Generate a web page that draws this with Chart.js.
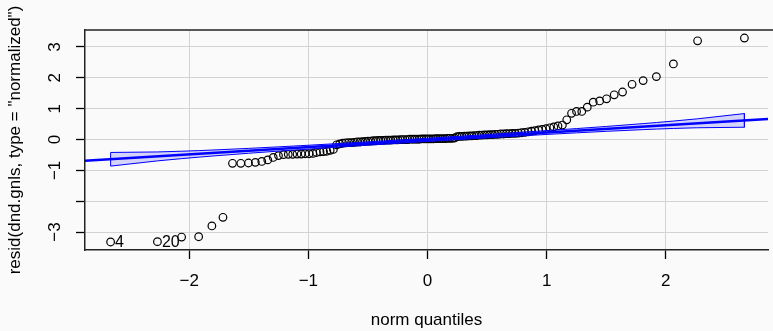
<!DOCTYPE html>
<html>
<head>
<meta charset="utf-8">
<script src="https://cdn.jsdelivr.net/npm/chart.js@4.4.1/dist/chart.umd.min.js"></script>
<style>
  html, body { margin: 0; padding: 0; background: #fafafa; }
  canvas { display: block; }
</style>
</head>
<body>
<canvas id="qq" width="773" height="331"></canvas>
<script>
// theoretical normal quantiles (x) and sorted normalized residuals (y)
const quantiles = [
  -2.660, -2.267, -2.064, -1.921, -1.810, -1.717, -1.637, -1.567, -1.503, -1.445,
  -1.391, -1.341, -1.295, -1.251, -1.209, -1.169, -1.132, -1.095, -1.060, -1.027,
  -0.994, -0.962, -0.932, -0.902, -0.873, -0.845, -0.817, -0.790, -0.763, -0.737,
  -0.712, -0.687, -0.662, -0.638, -0.614, -0.590, -0.567, -0.545, -0.522, -0.500,
  -0.478, -0.456, -0.434, -0.413, -0.392, -0.371, -0.350, -0.329, -0.309, -0.288,
  -0.268, -0.248, -0.228, -0.208, -0.188, -0.168, -0.148, -0.128, -0.108, -0.088,
  -0.069, -0.049, -0.029, -0.010,
  0.010, 0.029, 0.049, 0.069, 0.088, 0.108, 0.128, 0.148, 0.168, 0.188,
  0.208, 0.228, 0.248, 0.268, 0.288, 0.309, 0.329, 0.350, 0.371, 0.392,
  0.413, 0.434, 0.456, 0.478, 0.500, 0.522, 0.545, 0.567, 0.590, 0.614,
  0.638, 0.662, 0.687, 0.712, 0.737, 0.763, 0.790, 0.817, 0.845, 0.873,
  0.902, 0.932, 0.962, 0.994, 1.027, 1.060, 1.095, 1.132, 1.169, 1.209,
  1.251, 1.295, 1.341, 1.391, 1.445, 1.503, 1.567, 1.637, 1.717, 1.810,
  1.921, 2.064, 2.267, 2.660
];
const residuals = [
  -3.32, -3.31, -3.16, -3.15, -2.80, -2.52, -0.77, -0.77, -0.76, -0.74,
  -0.71, -0.66, -0.58, -0.52, -0.49, -0.48, -0.48, -0.47, -0.47, -0.46,
  -0.46, -0.45, -0.42, -0.40, -0.39, -0.38, -0.35, -0.32, -0.17, -0.14,
  -0.12, -0.11, -0.10, -0.10, -0.09, -0.08, -0.08, -0.07, -0.06, -0.05,
  -0.05, -0.04, -0.04, -0.03, -0.03, -0.03, -0.02, -0.02, -0.02, -0.01,
  -0.01, -0.01, 0.00, 0.00, 0.00, 0.00, 0.01, 0.01, 0.01, 0.01,
  0.01, 0.02, 0.02, 0.02, 0.02, 0.02, 0.02, 0.03, 0.03, 0.03,
  0.03, 0.03, 0.04, 0.04, 0.04, 0.05, 0.09, 0.10, 0.10, 0.11,
  0.11, 0.12, 0.12, 0.13, 0.13, 0.14, 0.14, 0.15, 0.15, 0.16,
  0.16, 0.17, 0.17, 0.18, 0.18, 0.19, 0.19, 0.20, 0.20, 0.21,
  0.22, 0.23, 0.25, 0.27, 0.29, 0.31, 0.33, 0.35, 0.38, 0.41,
  0.44, 0.47, 0.64, 0.85, 0.91, 0.91, 1.05, 1.21, 1.25, 1.32,
  1.45, 1.54, 1.79, 1.91, 2.04, 2.45, 3.20, 3.29
];

// confidence envelope around the reference line
const envQuant = [-2.660, -2.267, -2.064, -1.921, -1.810, -1.503, -1.251, -0.994, -0.500, 0,
                  0.500, 0.994, 1.251, 1.503, 1.810, 1.921, 2.064, 2.267, 2.660];
const envUpper = [-0.419, -0.402, -0.379, -0.359, -0.341, -0.287, -0.237, -0.184, -0.075, 0.042,
                  0.162, 0.288, 0.355, 0.425, 0.516, 0.551, 0.599, 0.672, 0.841];
const envLower = [-0.861, -0.692, -0.619, -0.571, -0.536, -0.445, -0.375, -0.308, -0.182, -0.062,
                  0.055, 0.164, 0.217, 0.267, 0.321, 0.339, 0.359, 0.382, 0.399];

// reference line end points (across the whole plot)
const refLineX = [-2.875, 2.858];
const refLineY = [-0.691, 0.667];

// identified points
const idIndex = [0, 1];
const idText = ["4", "20"];

const xTicks = [-2, -1, 0, 1, 2];
const yTicks = [-3, -2, -1, 0, 1, 2, 3];
const yTickLabels = ["\u22123", "", "\u22121", "0", "1", "2", "3"];

const FONT = '"Liberation Sans", Arial, Helvetica, sans-serif';
const minus = v => v < 0 ? "\u2212" + Math.abs(v) : String(v);

const points = quantiles.map((q, i) => ({x: q, y: residuals[i]}));
const envelope = envQuant.map((q, i) => ({x: q, y: envUpper[i]}))
  .concat(envQuant.map((q, i) => ({x: q, y: envLower[i]})).reverse());
envelope.push({x: envQuant[0], y: envUpper[0]});
const refLine = refLineX.map((x, i) => ({x: x, y: refLineY[i]}));

const qqDecor = {
  id: "qqDecor",
  beforeDraw(chart) {
    const {ctx, width, height} = chart;
    ctx.save();
    ctx.fillStyle = "#fafafa";
    ctx.fillRect(0, 0, width, height);
    ctx.restore();
  },
  afterDatasetsDraw(chart) {
    const ctx = chart.ctx;
    const meta = chart.getDatasetMeta(0);
    ctx.save();
    ctx.font = "16px " + FONT;
    ctx.fillStyle = "#000";
    ctx.textAlign = "left";
    ctx.textBaseline = "middle";
    idIndex.forEach((idx, k) => {
      const el = meta.data[idx];
      ctx.fillText(idText[k], el.x + 4.5, el.y + 0.5);
    });
    ctx.restore();
  },
  afterDraw(chart) {
    const {ctx, chartArea, width} = chart;
    const ys = chart.scales.y;
    ctx.save();
    // top of the box
    ctx.strokeStyle = "#222";
    ctx.lineWidth = 1.5;
    ctx.beginPath();
    ctx.moveTo(chartArea.left - 0.75, chartArea.top);
    ctx.lineTo(width, chartArea.top);
    ctx.stroke();
    // y tick labels, parallel to the axis
    ctx.font = "17px " + FONT;
    ctx.fillStyle = "#000";
    ctx.textAlign = "center";
    ctx.textBaseline = "middle";
    yTicks.forEach((v, i) => {
      if (!yTickLabels[i]) return;
      ctx.save();
      ctx.translate(55.5, ys.getPixelForValue(v));
      ctx.rotate(-Math.PI / 2);
      ctx.fillText(yTickLabels[i], 0, 0);
      ctx.restore();
    });
    ctx.restore();
  }
};

const gridOpts = {
  color: "#d3d3d3",
  lineWidth: 1,
  tickColor: "#000",
  tickLength: 9,
  tickWidth: 1.3
};

new Chart(document.getElementById("qq"), {
  type: "scatter",
  data: {
    datasets: [
      {
        data: points,
        order: 3,
        pointRadius: 3.8,
        pointHoverRadius: 3.8,
        pointBackgroundColor: "rgba(0,0,0,0)",
        pointBorderColor: "#000",
        pointBorderWidth: 1.2
      },
      {
        data: envelope,
        order: 2,
        showLine: true,
        pointRadius: 0,
        borderColor: "#0000ff",
        borderWidth: 1,
        backgroundColor: "rgba(0,0,255,0.15)",
        fill: "shape",
        tension: 0
      },
      {
        data: refLine,
        order: 1,
        showLine: true,
        pointRadius: 0,
        borderColor: "#0000ff",
        borderWidth: 2.5,
        fill: false
      }
    ]
  },
  options: {
    responsive: false,
    animation: false,
    devicePixelRatio: 1,
    layout: {padding: {top: 30, right: 0, bottom: 0, left: 0}},
    plugins: {
      legend: {display: false},
      tooltip: {enabled: false}
    },
    scales: {
      x: {
        type: "linear",
        min: -2.875,
        max: 2.858,
        afterBuildTicks: s => { s.ticks = xTicks.map(v => ({value: v})); },
        afterFit: s => { s.height = 81; },
        grid: gridOpts,
        border: {display: true, color: "#222", width: 1.5},
        ticks: {
          callback: v => minus(v),
          color: "#000",
          font: {family: FONT, size: 17},
          padding: 12,
          maxRotation: 0,
          autoSkip: false
        },
        title: {
          display: true,
          text: "norm quantiles",
          color: "#000",
          font: {family: FONT, size: 17},
          padding: {top: 0, bottom: 0}
        }
      },
      y: {
        type: "linear",
        min: -3.58,
        max: 3.55,
        afterBuildTicks: s => { s.ticks = yTicks.map(v => ({value: v})); },
        afterFit: s => { s.width = 85; },
        grid: gridOpts,
        border: {display: true, color: "#222", width: 1.5},
        ticks: {display: false},
        title: {
          display: true,
          text: 'resid(dnd.gnls, type = "normalized")',
          color: "#000",
          font: {family: FONT, size: 17},
          padding: {top: 5, bottom: 0}
        }
      }
    }
  },
  plugins: [qqDecor]
});
</script>
</body>
</html>
